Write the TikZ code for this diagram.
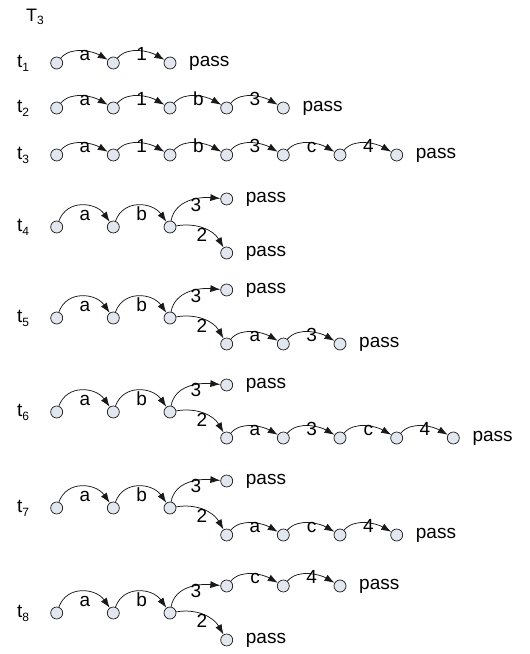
\documentclass[tikz,border=0pt]{standalone}
\usepackage{fontspec}
\setmainfont{Liberation Sans}
\usetikzlibrary{arrows.meta}
\definecolor{cfill}{RGB}{226,230,238}
\definecolor{dk}{RGB}{25,25,25}
\newcommand\lowarc[3]{\draw[lo] (#1) to (#2); \path (#1) -- node[lbl, yshift=2pt]{#3} (#2);}
\newcommand\higharc[3]{\draw[hi] (#1) to (#2); \path (#1) -- node[lbl, yshift=6pt]{#3} (#2);}
\newcommand\passat[2]{\node[passl] (#2) at (#1) {pass};}
\newcommand\tlab[3]{\node[tl] (#1) at (17,#2) {t\raisebox{-3.5pt}{\fontsize{12}{12}\selectfont #3}};}
\begin{document}
\begin{tikzpicture}[x=1pt,y=1pt,
  st/.style={circle, draw=dk, fill=cfill, minimum size=12pt, inner sep=0pt, line width=0.7pt},
  arr/.style={-{Latex[length=10pt,width=7pt]}, line width=0.75pt, draw=dk},
  lo/.style={arr, out=50, in=150, looseness=0.9},
  hi/.style={arr, out=70, in=125, looseness=1.2},
  upb/.style={arr, out=80, in=175, looseness=1},
  dnb/.style={arr, out=10, in=120, looseness=1},
  lbl/.style={font=\fontsize{19}{19}\selectfont, inner sep=0pt, anchor=base},
  brl/.style={font=\fontsize{19}{19}\selectfont, inner sep=0pt},
  passl/.style={font=\fontsize{19}{19}\selectfont, inner sep=0pt, anchor=west, xshift=19pt},
  tl/.style={font=\fontsize{19}{19}\selectfont, inner sep=0pt, anchor=base west, yshift=-5pt}
]
\useasboundingbox (0,0) rectangle (530,654);
\def\xa{56.7}\def\xb{113.3}\def\xc{170}\def\xd{226.7}\def\xe{283.3}\def\xf{340}\def\xg{396.7}\def\xh{453.3}
% title
\node[font=\fontsize{18}{18}\selectfont, inner sep=0pt, anchor=base west] (T) at (26,632) {T\raisebox{-3pt}{\fontsize{12}{12}\selectfont 3}};
% t1
\tlab{L1}{591}{1}
\node[st] (a1) at (\xa,591) {};
\node[st] (a2) at (\xb,591) {};
\node[st] (a3) at (\xc,591) {};
\lowarc{a1}{a2}{a}
\lowarc{a2}{a3}{1}
\passat{a3}{pa}
% t2
\tlab{L2}{546}{2}
\node[st] (b1) at (\xa,546) {};
\node[st] (b2) at (\xb,546) {};
\node[st] (b3) at (\xc,546) {};
\node[st] (b4) at (\xd,546) {};
\node[st] (b5) at (\xe,546) {};
\lowarc{b1}{b2}{a}
\lowarc{b2}{b3}{1}
\lowarc{b3}{b4}{b}
\lowarc{b4}{b5}{3}
\passat{b5}{pb}
% t3
\tlab{L3}{499}{3}
\node[st] (c1) at (\xa,499) {};
\node[st] (c2) at (\xb,499) {};
\node[st] (c3) at (\xc,499) {};
\node[st] (c4) at (\xd,499) {};
\node[st] (c5) at (\xe,499) {};
\node[st] (c6) at (\xf,499) {};
\node[st] (c7) at (\xg,499) {};
\lowarc{c1}{c2}{a}
\lowarc{c2}{c3}{1}
\lowarc{c3}{c4}{b}
\lowarc{c4}{c5}{3}
\lowarc{c5}{c6}{c}
\lowarc{c6}{c7}{4}
\passat{c7}{pc}
% t4
\tlab{L4}{427}{4}
\node[st] (d1) at (\xa,427) {};
\node[st] (d2) at (\xb,427) {};
\node[st] (d3) at (\xc,427) {};
\node[st] (du) at (\xd,455) {};
\node[st] (dl) at (\xd,401) {};
\higharc{d1}{d2}{a}
\higharc{d2}{d3}{b}
\draw[upb] (d3) to (du);
\draw[dnb] (d3) to (dl);
\node[brl] at ([shift={(26,22)}]d3.center) {3};
\node[brl] at ([shift={(32,-8)}]d3.center) {2};
\passat{du}{pdu}
\passat{dl}{pdl}
% t5
\tlab{L5}{336}{5}
\node[st] (e1) at (\xa,336) {};
\node[st] (e2) at (\xb,336) {};
\node[st] (e3) at (\xc,336) {};
\node[st] (eu) at (\xd,364) {};
\node[st] (el1) at (\xd,310) {};
\node[st] (el2) at (\xe,310) {};
\node[st] (el3) at (\xf,310) {};
\higharc{e1}{e2}{a}
\higharc{e2}{e3}{b}
\draw[upb] (e3) to (eu);
\draw[dnb] (e3) to (el1);
\node[brl] at ([shift={(26,22)}]e3.center) {3};
\node[brl] at ([shift={(32,-8)}]e3.center) {2};
\lowarc{el1}{el2}{a}
\lowarc{el2}{el3}{3}
\passat{eu}{peu}
\passat{el3}{pel}
% t6
\tlab{L6}{242}{6}
\node[st] (f1) at (\xa,242) {};
\node[st] (f2) at (\xb,242) {};
\node[st] (f3) at (\xc,242) {};
\node[st] (fu) at (\xd,269) {};
\node[st] (fl1) at (\xd,216) {};
\node[st] (fl2) at (\xe,216) {};
\node[st] (fl3) at (\xf,216) {};
\node[st] (fl4) at (\xg,216) {};
\node[st] (fl5) at (\xh,216) {};
\higharc{f1}{f2}{a}
\higharc{f2}{f3}{b}
\draw[upb] (f3) to (fu);
\draw[dnb] (f3) to (fl1);
\node[brl] at ([shift={(26,22)}]f3.center) {3};
\node[brl] at ([shift={(32,-8)}]f3.center) {2};
\lowarc{fl1}{fl2}{a}
\lowarc{fl2}{fl3}{3}
\lowarc{fl3}{fl4}{c}
\lowarc{fl4}{fl5}{4}
\passat{fu}{pfu}
\passat{fl5}{pfl}
% t7
\tlab{L7}{146}{7}
\node[st] (g1) at (\xa,146) {};
\node[st] (g2) at (\xb,146) {};
\node[st] (g3) at (\xc,146) {};
\node[st] (gu) at (\xd,173) {};
\node[st] (gl1) at (\xd,119) {};
\node[st] (gl2) at (\xe,119) {};
\node[st] (gl3) at (\xf,119) {};
\node[st] (gl4) at (\xg,119) {};
\higharc{g1}{g2}{a}
\higharc{g2}{g3}{b}
\draw[upb] (g3) to (gu);
\draw[dnb] (g3) to (gl1);
\node[brl] at ([shift={(26,22)}]g3.center) {3};
\node[brl] at ([shift={(32,-8)}]g3.center) {2};
\lowarc{gl1}{gl2}{a}
\lowarc{gl2}{gl3}{c}
\lowarc{gl3}{gl4}{4}
\passat{gu}{pgu}
\passat{gl4}{pgl}
% t8
\tlab{L8}{41}{8}
\node[st] (h1) at (\xa,41) {};
\node[st] (h2) at (\xb,41) {};
\node[st] (h3) at (\xc,41) {};
\node[st] (hu1) at (\xd,68) {};
\node[st] (hu2) at (\xe,68) {};
\node[st] (hu3) at (\xf,68) {};
\node[st] (hl) at (\xd,14) {};
\higharc{h1}{h2}{a}
\higharc{h2}{h3}{b}
\draw[upb] (h3) to (hu1);
\draw[dnb] (h3) to (hl);
\node[brl] at ([shift={(26,22)}]h3.center) {3};
\node[brl] at ([shift={(32,-8)}]h3.center) {2};
\lowarc{hu1}{hu2}{c}
\lowarc{hu2}{hu3}{4}
\passat{hu3}{phu}
\passat{hl}{phl}
\end{tikzpicture}
\end{document}
